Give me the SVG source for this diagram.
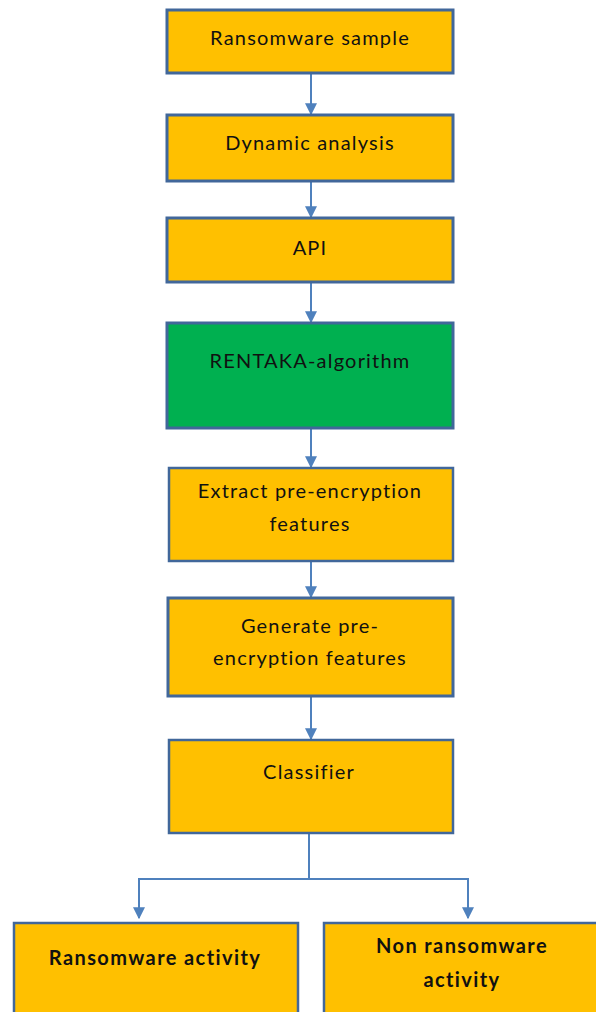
<svg xmlns="http://www.w3.org/2000/svg" width="596" height="1012" viewBox="0 0 596 1012">
<style>
.box{fill:#FFC000;stroke:#41679A;stroke-width:3}
.box2{fill:#FFC000;stroke:#41679A;stroke-width:2.5}
.green{fill:#00B050;stroke:#41679A;stroke-width:3}
.t{font-family:Lato,"Liberation Sans",sans-serif;font-size:20px;letter-spacing:1.2px;fill:#111;text-anchor:middle}
.b{font-weight:bold;letter-spacing:1.4px}
.c{fill:none;stroke:#4F81BD;stroke-width:2}
</style>
<defs>
<marker id="ah" viewBox="0 0 10 10" refX="9" refY="5" markerWidth="6" markerHeight="6" orient="auto" markerUnits="strokeWidth">
<path d="M0,0 L10,5 L0,10 z" fill="#4F81BD"/>
</marker>
</defs>
<g id="connectors">
<line class="c" x1="311" y1="73" x2="311" y2="114" marker-end="url(#ah)"/>
<line class="c" x1="311" y1="181" x2="311" y2="217" marker-end="url(#ah)"/>
<line class="c" x1="311" y1="282" x2="311" y2="322" marker-end="url(#ah)"/>
<line class="c" x1="311" y1="428" x2="311" y2="467" marker-end="url(#ah)"/>
<line class="c" x1="311" y1="561" x2="311" y2="597" marker-end="url(#ah)"/>
<line class="c" x1="311" y1="696" x2="311" y2="739" marker-end="url(#ah)"/>
<path class="c" d="M309,833 V879"/>
<path class="c" d="M309,879 H139 V918" marker-end="url(#ah)"/>
<path class="c" d="M309,879 H468 V918" marker-end="url(#ah)"/>
</g>
<g id="n1"><rect class="box" x="167" y="10" width="286" height="63"/><text class="t" x="310" y="45">Ransomware sample</text></g>
<g id="n2"><rect class="box" x="167" y="115" width="286" height="66"/><text class="t" x="310" y="150">Dynamic analysis</text></g>
<g id="n3"><rect class="box" x="167" y="218" width="286" height="64"/><text class="t" x="310" y="255">API</text></g>
<g id="n4"><rect class="green" x="167" y="323" width="286" height="105"/><text class="t" x="310" y="368">RENTAKA-algorithm</text></g>
<g id="n5"><rect class="box2" x="169" y="468" width="284" height="93"/><text class="t" x="310" y="498">Extract pre-encryption</text><text class="t" x="310" y="531">features</text></g>
<g id="n6"><rect class="box" x="168" y="598" width="285" height="98"/><text class="t" x="310" y="633">Generate pre-</text><text class="t" x="310" y="665">encryption features</text></g>
<g id="n7"><rect class="box2" x="169" y="740" width="284" height="93"/><text class="t" x="309" y="779">Classifier</text></g>
<g id="n8"><rect class="box2" x="14" y="923" width="284" height="100"/><text class="t b" x="155" y="965">Ransomware activity</text></g>
<g id="n9"><rect class="box2" x="324" y="923" width="280" height="100"/><text class="t b" x="462" y="953">Non ransomware</text><text class="t b" x="462" y="987">activity</text></g>
</svg>
